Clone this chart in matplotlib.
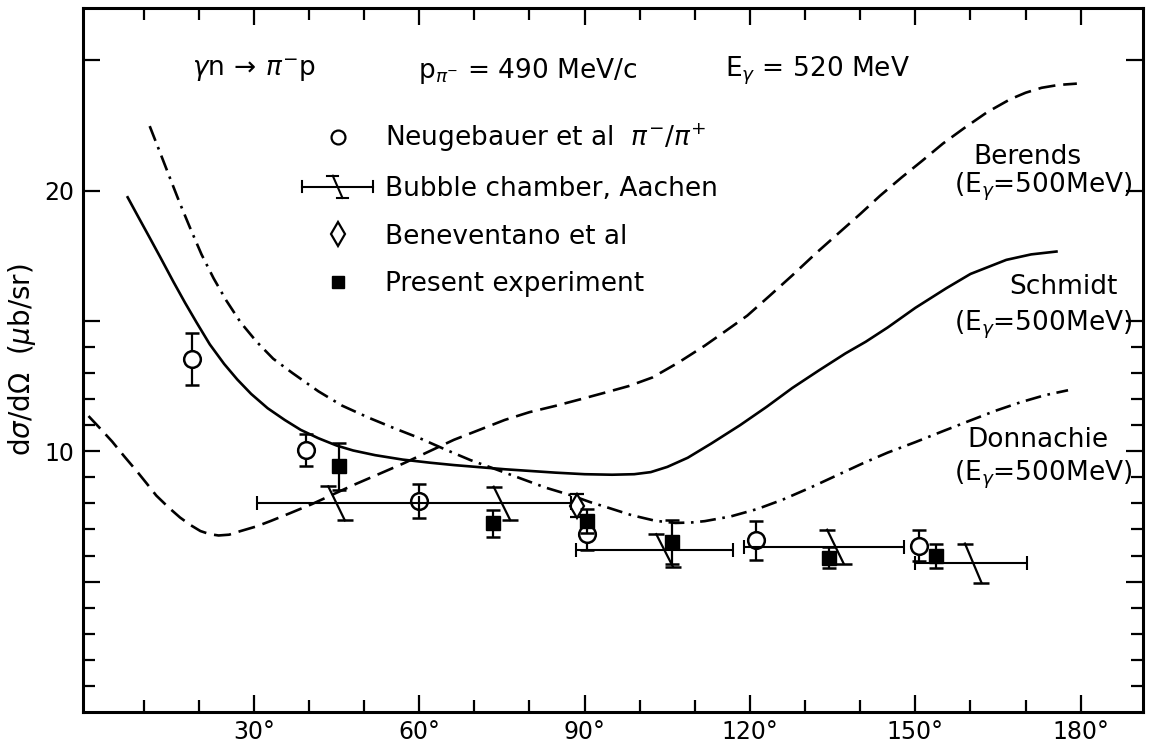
import matplotlib
matplotlib.use("Agg")
import matplotlib.pyplot as plt
from matplotlib.lines import Line2D
from matplotlib.legend_handler import HandlerBase

plt.rcParams['font.family'] = ['DejaVu Sans']
plt.rcParams['mathtext.fontset'] = 'dejavusans'

# values: pion angle (deg) vs dsigma/dOmega (microbarn/sr)

# Neugebauer et al (open circles)
neu_ang = [18.7, 39.4, 59.9, 90.5, 121.1, 150.7]
neu_val = [13.55, 10.05, 8.1, 6.81, 6.58, 6.38]
neu_err = [1.0, 0.6, 0.65, 0.6, 0.75, 0.6]

# present experiment (filled squares)
pres_ang = [45.4, 73.3, 90.5, 105.8, 134.4, 153.8]
pres_val = [9.43, 7.23, 7.33, 6.51, 5.91, 5.98]
pres_err = [0.9, 0.5, 0.45, 0.85, 0.4, 0.47]

# Beneventano et al (diamond)
ben_ang = [88.6]
ben_val = [7.91]
ben_err = [0.45]

# bubble chamber, Aachen: angular bins with a slanted error mark
bc_lo = [30.5, 60.0, 88.5, 119.0, 150.0]
bc_hi = [60.0, 87.5, 117.0, 148.0, 170.2]
bc_mid = [45.0, 75.0, 104.5, 135.5, 160.5]
bc_val = [8.0, 8.0, 6.2, 6.34, 5.71]
bc_err = [0.65, 0.64, 0.62, 0.65, 0.75]

# theory curves (E_gamma = 500 MeV)
ber_ang = [0, 2.0, 4.3, 6.5, 8.9, 10.5, 12.3, 14.5, 16.6, 18.5, 20.3, 22.0, 23.6, 25.5,
           27.6, 30.5, 33.1, 36.5, 40.5, 47.9, 57.1, 66.3, 75.5, 80.0, 84.7, 89.0, 93.9,
           98.0, 102.3, 107.0, 111.8, 115.5, 119.5, 123.5, 127.7, 132.0, 136.0, 140.0,
           143.6, 147.5, 151.3, 155.0, 158.9, 163.0, 167.2, 170.0, 172.9, 176.0, 179.3]
ber_val = [11.35, 10.9, 10.37, 9.8, 9.2, 8.78, 8.3, 7.85, 7.46, 7.17, 6.94, 6.82, 6.77, 6.8,
           6.94, 7.12, 7.33, 7.62, 7.97, 8.69, 9.53, 10.44, 11.2, 11.5, 11.74, 11.98, 12.26,
           12.5, 12.83, 13.4, 14.05, 14.6, 15.2, 15.95, 16.75, 17.6, 18.35, 19.1,
           19.8, 20.5, 21.15, 21.8, 22.4, 23.0, 23.5, 23.75, 23.94, 24.05, 24.1]

sch_ang = [7.1, 9.0, 11.1, 13.0, 15.4, 17.5, 19.6, 22.0, 24.6, 27.0, 29.5, 32.5, 35.6, 38.5,
           41.7, 45.0, 48.0, 52.0, 57.0, 62.0, 66.3, 75.5, 84.7, 90.0, 95.0, 99.0, 102.0,
           105.0, 108.7, 113.0, 118.2, 123.0, 127.7, 132.5, 137.3, 141.0, 145.0, 150.0,
           155.6, 160.0, 166.5, 171.0, 175.6]
sch_val = [19.74, 19.0, 18.19, 17.45, 16.5, 15.7, 14.94, 14.1, 13.35, 12.75, 12.2, 11.65, 11.2,
           10.82, 10.5, 10.22, 10.03, 9.85, 9.68, 9.56, 9.47, 9.31, 9.18, 9.12, 9.1, 9.12, 9.2,
           9.4, 9.75, 10.3, 11.0, 11.7, 12.43, 13.1, 13.75, 14.2, 14.75, 15.5,
           16.25, 16.8, 17.34, 17.55, 17.66]

don_ang = [11.1, 12.9, 14.7, 16.5, 18.4, 20.5, 22.7, 25.0, 27.6, 30.5, 33.5, 37.0, 41.7,
           46.0, 50.9, 55.5, 60.1, 64.7, 69.3, 74.0, 78.5, 83.0, 87.7, 91.0, 94.5, 98.5,
           102.9, 106.5, 109.5, 111.8, 116.5, 121.4, 126.0, 130.9, 135.7, 140.5, 145.0,
           150.0, 155.0, 159.6, 164.5, 169.1, 173.5, 177.7]
don_val = [22.47, 21.5, 20.52, 19.55, 18.58, 17.55, 16.63, 15.78, 14.94, 14.2, 13.55, 13.0, 12.3,
           11.75, 11.28, 10.88, 10.5, 10.07, 9.66, 9.3, 8.95, 8.6, 8.3, 8.05, 7.82, 7.55,
           7.33, 7.25, 7.27, 7.32, 7.5, 7.79, 8.15, 8.6, 9.07, 9.54, 9.95,
           10.35, 10.77, 11.15, 11.55, 11.88, 12.15, 12.34]

xmajor = [30, 60, 90, 120, 150, 180]
xminor = [10, 20, 40, 50, 70, 80, 100, 110, 130, 140, 160, 170]
xlabels = ['30°', '60°', '90°', '120°', '150°', '180°']
ymajor = [5, 10, 15, 20, 25]
ylabels = ['', '10', '', '20', '']
yminor = [1, 2, 3, 4, 6, 7, 8, 9, 11, 12, 13, 14]


class BubbleKey(HandlerBase):
    # horizontal bin bar with end caps and the slanted error mark in the middle
    def create_artists(self, legend, orig_handle, xdescent, ydescent,
                       width, height, fontsize, trans):
        y = height / 2 - ydescent
        x0, x1 = -xdescent, width - xdescent
        xm = (x0 + x1) / 2
        c, d, h = 4, 3.5, 8
        kw = dict(color='k', lw=1.5, transform=trans)
        arts = [Line2D([x0, x1], [y, y], **kw),
                Line2D([x0, x0], [y - c, y + c], **kw),
                Line2D([x1, x1], [y - c, y + c], **kw),
                Line2D([xm - d, xm + d], [y + h, y - h], **kw),
                Line2D([xm - d - 4, xm - d + 4], [y + h, y + h], **kw),
                Line2D([xm + d - 4, xm + d + 4], [y - h, y - h], **kw)]
        return arts


fig = plt.figure(figsize=(11.51, 7.53), dpi=100)
ax = fig.add_axes([83 / 1151, 1 - 712 / 753, 1060 / 1151, 704 / 753])

ax.plot(ber_ang, ber_val, color='k', lw=1.9, ls=(0, (6.5, 3)))
ax.plot(sch_ang, sch_val, color='k', lw=1.9)
ax.plot(don_ang, don_val, color='k', lw=1.9, ls=(0, (6, 2.5, 1, 2.5)))

ax.errorbar(neu_ang, neu_val, yerr=neu_err, fmt='o', ms=12, mfc='white', mec='k', mew=1.8,
            ecolor='k', elinewidth=1.6, capsize=5, capthick=1.8, zorder=3)
ax.errorbar(ben_ang, ben_val, yerr=ben_err, fmt='d', ms=12, mfc='white', mec='k', mew=1.6,
            ecolor='k', elinewidth=1.6, capsize=5, capthick=1.8, zorder=3)
ax.errorbar(pres_ang, pres_val, yerr=pres_err, fmt='s', ms=9.5, color='k',
            elinewidth=1.6, capsize=5, capthick=1.8, zorder=4)

bc_xerr = [[m - lo for m, lo in zip(bc_mid, bc_lo)], [hi - m for m, hi in zip(bc_mid, bc_hi)]]
ax.errorbar(bc_mid, bc_val, xerr=bc_xerr, fmt='none', ecolor='k', elinewidth=1.5,
            capsize=5, capthick=1.5, zorder=5)
slant = 1.5
for m, v, e in zip(bc_mid, bc_val, bc_err):
    ax.plot([m - slant, m + slant], [v + e, v - e], color='k', lw=1.6, zorder=5)
    ax.plot([m - slant, m + slant], [v + e, v - e], ls='none', marker='_', ms=11,
            mew=1.8, color='k', zorder=5)

ax.set_xlim(-1, 191.3)
ax.set_ylim(0, 27)
ax.set_xticks(xmajor)
ax.set_xticklabels(xlabels)
ax.set_xticks(xminor, minor=True)
ax.set_yticks(ymajor)
ax.set_yticklabels(ylabels)
ax.set_yticks(yminor, minor=True)
ax.tick_params(which='both', direction='in', top=True, right=True, width=1.6,
               labelsize=17, pad=6)
ax.tick_params(which='major', length=12)
ax.tick_params(which='minor', length=8.5)
for s in ax.spines.values():
    s.set_linewidth(2.2)

ax.set_ylabel(r'd$\sigma$/d$\Omega$  ($\mu$b/sr)', fontsize=20)
ax.yaxis.set_label_coords(-0.0425, 0.5)

# header line
ax.text(18.8, 24.6, r'$\gamma$n$\,\rightarrow\,\pi^{-}$p', fontsize=19, va='center')
ax.text(59.7, 24.6, r'p$_{\pi^{-}}$ = 490 MeV/c', fontsize=19, va='center')
ax.text(115.4, 24.6, r'E$_{\gamma}$ = 520 MeV', fontsize=19, va='center')

# curve labels
ax.text(170.4, 21.29, 'Berends', fontsize=19, ha='center', va='center')
ax.text(189.4, 20.14, r'(E$_{\gamma}$=500MeV)', fontsize=19, ha='right', va='center')
ax.text(176.9, 16.3, 'Schmidt', fontsize=19, ha='center', va='center')
ax.text(189.4, 14.84, r'(E$_{\gamma}$=500MeV)', fontsize=19, ha='right', va='center')
ax.text(172.2, 10.43, 'Donnachie', fontsize=19, ha='center', va='center')
ax.text(189.4, 9.09, r'(E$_{\gamma}$=500MeV)', fontsize=19, ha='right', va='center')

h_neu = Line2D([], [], ls='none', marker='o', ms=10, mfc='white', mec='k', mew=1.6)
h_bc = Line2D([], [], color='k')
h_ben = Line2D([], [], ls='none', marker='d', ms=12, mfc='white', mec='k', mew=1.6)
h_pres = Line2D([], [], ls='none', marker='s', ms=8, color='k')
ax.legend([h_neu, h_bc, h_ben, h_pres],
          [r'Neugebauer et al  $\pi^{-}/\pi^{+}$', 'Bubble chamber, Aachen',
           'Beneventano et al', 'Present experiment'],
          handler_map={h_bc: BubbleKey()}, loc='upper left',
          bbox_to_anchor=(0.2066, 0.838), frameon=False, fontsize=19,
          borderpad=0, borderaxespad=0, handlelength=2.7, handletextpad=0.45,
          labelspacing=0.82)

fig.savefig('out.png', dpi=100)
